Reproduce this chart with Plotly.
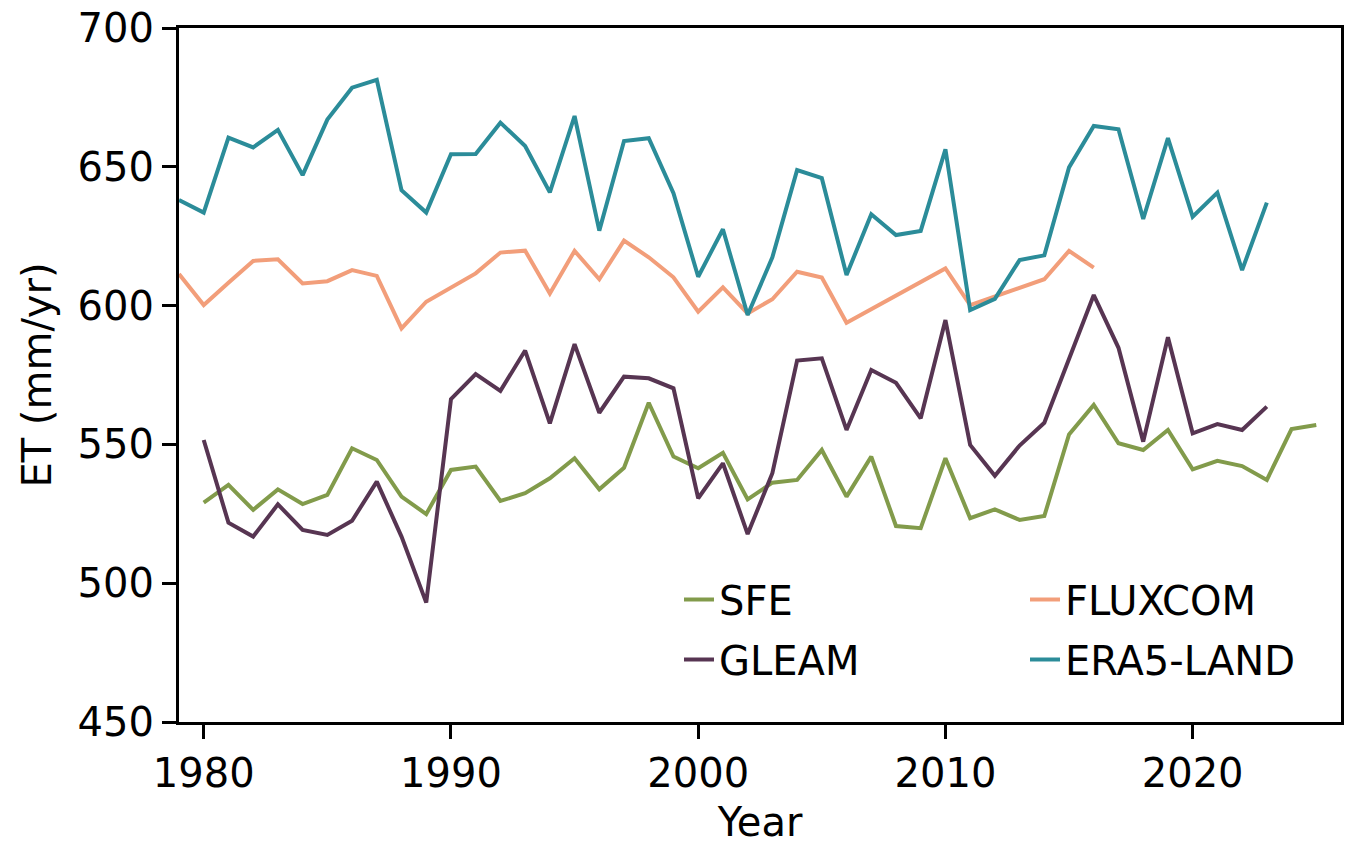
import plotly.graph_objects as go

years_era5 = list(range(1979, 2024))
era5_land = [638.0, 633.5, 660.5, 657.0, 663.3, 647.0, 667.0, 678.5, 681.3, 641.6,
             633.5, 654.5, 654.6, 665.9, 657.5, 640.8, 668.3, 627.0, 659.3, 660.3,
             640.5, 610.4, 627.5, 596.6, 617.4, 648.8, 645.9, 611.0, 632.9, 625.4,
             626.9, 656.3, 598.4, 602.4, 616.4, 618.1, 649.8, 664.7, 663.5, 631.2,
             660.3, 632.0, 640.7, 612.8, 637.1]

years_fluxcom = list(range(1979, 2017))
fluxcom = [611.4, 600.2, 608.2, 616.1, 616.7, 608.0, 608.8, 612.8, 610.7, 591.8,
           601.4, 606.5, 611.6, 619.1, 619.8, 604.4, 619.7, 609.5, 623.4, 617.4,
           610.2, 597.8, 606.6, 597.2, 602.3, 612.2, 610.1, 593.8, 598.8, 603.6,
           608.5, 613.4, 600.2, 603.2, 606.5, 609.5, 619.7, 613.7]

years_gleam = list(range(1980, 2024))
gleam = [551.6, 521.8, 516.8, 528.4, 519.2, 517.4, 522.5, 536.6, 516.8, 493.0,
         566.3, 575.3, 569.3, 583.8, 557.6, 586.1, 561.4, 574.4, 573.8, 570.2,
         530.6, 543.2, 517.7, 539.6, 580.2, 581.0, 555.2, 576.8, 572.2, 559.4,
         594.8, 549.8, 538.7, 549.6, 557.8, 580.6, 603.8, 584.8, 551.0, 588.6,
         554.0, 557.3, 555.2, 563.6]

years_sfe = list(range(1980, 2026))
sfe = [529.0, 535.4, 526.4, 533.8, 528.5, 531.8, 548.6, 544.4, 531.2, 524.9,
       540.8, 542.0, 529.6, 532.4, 537.8, 545.0, 533.8, 541.6, 565.0, 545.6,
       541.4, 547.0, 530.2, 536.2, 537.2, 548.0, 531.2, 545.6, 520.6, 519.8,
       545.0, 523.4, 526.6, 522.8, 524.2, 553.6, 564.2, 550.4, 548.0, 555.2,
       541.0, 544.1, 542.2, 537.2, 555.5, 557.0]

x_ticks = [1980, 1990, 2000, 2010, 2020]
y_ticks = [450, 500, 550, 600, 650, 700]

colors = {
    "SFE": "#829b4b",
    "FLUXCOM": "#f29e7a",
    "GLEAM": "#573552",
    "ERA5-LAND": "#2b8c99",
}

FONT = "DejaVu Sans"
FS = 40
fig = go.Figure()

series = [
    ("SFE", years_sfe, sfe, "legend"),
    ("GLEAM", years_gleam, gleam, "legend2"),
    ("FLUXCOM", years_fluxcom, fluxcom, "legend3"),
    ("ERA5-LAND", years_era5, era5_land, "legend4"),
]
for name, xs, ys, lg in series:
    fig.add_trace(go.Scatter(x=xs, y=ys, mode="lines", name=name,
                             line=dict(color=colors[name], width=4), legend=lg))

# page has an 8px body margin; figure is placed at (8, 8)
OFF = 8
W, H = 1358 - 2 * OFF, 853 - 2 * OFF
PL, PR, PT, PB = 179, 1341, 28, 722  # plot area in page pixels
L, T = PL - OFF, PT - OFF
R = W - (PR - OFF)
B = H - (PB - OFF)

def px_x(px):
    return (px - PL) / (PR - PL)

def px_y(py):
    return 1 - (py - PT) / (PB - PT)

legend_common = dict(
    font=dict(family=FONT, size=FS, color="black"),
    bgcolor="rgba(0,0,0,0)",
    borderwidth=0,
    xanchor="left", yanchor="top",
    itemwidth=30,
    tracegroupgap=0,
)

axis_common = dict(
    ticks="outside", ticklen=14, tickwidth=3.3, tickcolor="black",
    showline=True, linecolor="black", linewidth=3.3, mirror=True,
    showgrid=False, zeroline=False,
    ticklabeloverflow="allow",
    automargin=False,
    tickfont=dict(family=FONT, size=FS, color="black"),
)

fig.update_layout(
    width=W, height=H,
    margin=dict(l=L, r=R, t=T, b=B, autoexpand=False),
    paper_bgcolor="white", plot_bgcolor="white",
    font=dict(family=FONT, size=FS, color="black"),
    showlegend=True,
    legend=dict(x=px_x(679), y=px_y(567), **legend_common),
    legend2=dict(x=px_x(679), y=px_y(627), **legend_common),
    legend3=dict(x=px_x(1025), y=px_y(567), **legend_common),
    legend4=dict(x=px_x(1025), y=px_y(627), **legend_common),
    xaxis=dict(
        range=[1979, 2026],
        tickvals=x_ticks,
        ticktext=[str(v) for v in x_ticks],
        title=dict(text="Year", font=dict(family=FONT, size=FS, color="black"), standoff=19),
        **axis_common,
    ),
    yaxis=dict(
        range=[450, 700],
        tickvals=y_ticks,
        ticktext=[str(v) for v in y_ticks],
        title=dict(text="ET (mm/yr)", font=dict(family=FONT, size=FS, color="black"), standoff=14),
        **axis_common,
    ),
)

fig.write_html("out.html")
